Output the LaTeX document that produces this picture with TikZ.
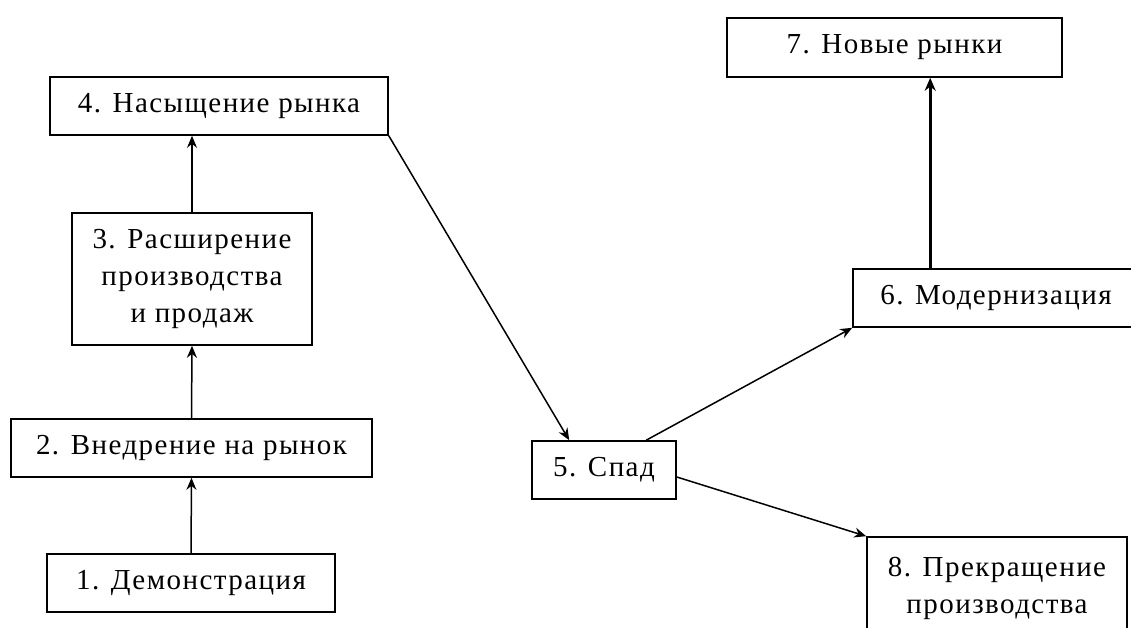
\documentclass[tikz,border=0pt]{standalone}
\usepackage{fontspec}
\setmainfont{Liberation Serif}[LetterSpace=5]
\usetikzlibrary{arrows.meta,calc}
\begin{document}
\begin{tikzpicture}[x=1pt,y=-1pt,
  box/.style={draw,line width=1.6pt,inner sep=0pt,align=center,
    font=\fontsize{29}{37}\selectfont},
  conn/.style={line width=1.5pt,-{Stealth[length=12pt,width=10pt]}},
  thick conn/.style={line width=2.6pt,-{Stealth[length=13pt,width=11pt]}}]
\clip (0,0) rectangle (1131,628);
\fill[white] (0,0) rectangle (1131,628);
\node[box,minimum width=288pt,minimum height=58pt] (n1) at (191,583) {1. Демонстрация};
\node[box,minimum width=361pt,minimum height=58pt] (n2) at (191.5,448) {2. Внедрение на рынок};
\node[box,minimum width=240pt,minimum height=132pt] (n3) at (192,279) {3. Расширение\\производства\\и продаж};
\node[box,minimum width=338pt,minimum height=58pt] (n4) at (219,106) {4. Насыщение рынка};
\node[box,minimum width=144pt,minimum height=58pt] (n5) at (604,470) {5. Спад};
\node[box,minimum width=282pt,minimum height=58pt] (n6) at (994,298) {\hspace*{4pt}6. Модернизация};
\node[box,minimum width=335pt,minimum height=59pt] (n7) at (894.5,47.5) {7. Новые рынки};
\node[box,minimum width=260pt,minimum height=103pt] (n8) at (997,588.5) {8. Прекращение\\производства};
\draw[conn] (n1.north) -- (n2.south);
\draw[conn] (n2.north) -- (n3.south);
\draw[conn] (n3.north) -- (n3.north |- n4.south);
\draw[conn] (n4.south east) -- ($(n5.north west)+(38,0)$);
\draw[conn] ($(n5.north west)+(115,0)$) -- (n6.south west);
\draw[conn] ($(n5.east)+(0,7)$) -- (n8.north west);
\coordinate (c6) at ($(n6.north west)+(78,0)$);
\draw[thick conn] (c6) -- (c6 |- n7.south);
\end{tikzpicture}
\end{document}
